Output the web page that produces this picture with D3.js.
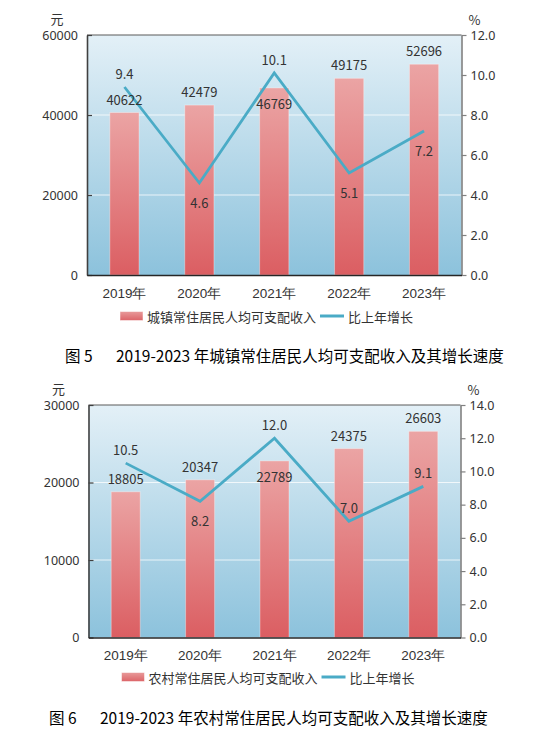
<!DOCTYPE html>
<html>
<head>
<meta charset="utf-8">
<script src="https://cdn.jsdelivr.net/npm/d3@7"></script>
<style>
html,body{margin:0;padding:0;background:#fff;}
svg{display:block;font-family:"Noto Sans CJK SC","Noto Sans",sans-serif;}
</style>
</head>
<body>
<svg id="c" width="554" height="737"></svg>
<script>
const years = ["2019年","2020年","2021年","2022年","2023年"];
const urbanIncome = [40622, 42479, 46769, 49175, 52696];
const urbanGrowth = [9.4, 4.6, 10.1, 5.1, 7.2];
const ruralIncome = [18805, 20347, 22789, 24375, 26603];
const ruralGrowth = [10.5, 8.2, 12.0, 7.0, 9.1];
const urbanLeftTicks = [0, 20000, 40000, 60000];
const urbanRightTicks = [0, 2, 4, 6, 8, 10, 12];
const ruralLeftTicks = [0, 10000, 20000, 30000];
const ruralRightTicks = [0, 2, 4, 6, 8, 10, 12, 14];
const urbanLegend = ["城镇常住居民人均可支配收入", "比上年增长"];
const ruralLegend = ["农村常住居民人均可支配收入", "比上年增长"];
const urbanCaption = ["图 5", "2019-2023 年城镇常住居民人均可支配收入及其增长速度"];
const ruralCaption = ["图 6", "2019-2023 年农村常住居民人均可支配收入及其增长速度"];

const svg = d3.select("#c");
const defs = svg.append("defs");
const bg = defs.append("linearGradient").attr("id","bgGrad").attr("x1",0).attr("y1",0).attr("x2",0).attr("y2",1);
bg.append("stop").attr("offset","0%").attr("stop-color","#e3f0f7");
bg.append("stop").attr("offset","100%").attr("stop-color","#8cc2dc");
const bg2 = defs.append("linearGradient").attr("id","barGrad").attr("x1",0).attr("y1",0).attr("x2",0).attr("y2",1);
bg2.append("stop").attr("offset","0%").attr("stop-color","#eba4a4");
bg2.append("stop").attr("offset","100%").attr("stop-color","#db5e62");
const bg3 = defs.append("linearGradient").attr("id","legGrad").attr("x1",0).attr("y1",0).attr("x2",0).attr("y2",1);
bg3.append("stop").attr("offset","0%").attr("stop-color","#e89a9a");
bg3.append("stop").attr("offset","100%").attr("stop-color","#dc6468");

const LINE = "#4aabc6";
const TXT = "#333333";

function drawChart(o){
  const g = svg.append("g");
  const x = d3.scaleBand().domain(o.cats).range([o.left,o.right]).paddingInner(0.61).paddingOuter(0.305);
  const yL = d3.scaleLinear().domain([0,d3.max(o.lticks)]).range([o.bottom,o.top]);
  const yR = d3.scaleLinear().domain([0,d3.max(o.rticks)]).range([o.bottom,o.top]);

  g.append("rect").attr("x",o.left).attr("y",o.top).attr("width",o.right-o.left).attr("height",o.bottom-o.top).attr("fill","url(#bgGrad)");
  g.selectAll(".grid").data(o.lticks.slice(1,-1)).join("line")
    .attr("x1",o.left).attr("x2",o.right).attr("y1",d=>yL(d)).attr("y2",d=>yL(d))
    .attr("stroke","rgba(255,255,255,0.75)").attr("stroke-width",1.2);
  g.selectAll(".bar").data(o.income).join("rect")
    .attr("x",(d,i)=>x(o.cats[i])).attr("width",x.bandwidth())
    .attr("y",d=>yL(d)).attr("height",d=>o.bottom-yL(d))
    .attr("fill","url(#barGrad)").attr("stroke","rgba(255,255,255,0.35)").attr("stroke-width",1);
  g.append("line").attr("x1",o.left).attr("x2",o.right).attr("y1",o.top).attr("y2",o.top).attr("stroke","#5a5a5a").attr("stroke-width",1.2);
  const la = g.append("g").attr("transform",`translate(${o.left},0)`)
    .call(d3.axisLeft(yL).tickValues(o.lticks).tickFormat(d3.format("d")).tickSizeInner(-5).tickSizeOuter(0).tickPadding(9));
  la.select(".domain").attr("stroke","#404040").attr("stroke-width",1.6);
  la.selectAll(".tick line").attr("stroke","#404040").attr("stroke-width",1.2);
  la.selectAll("text").attr("font-size",12.5).attr("fill",TXT).attr("font-family","Noto Sans, sans-serif");
  const ra = g.append("g").attr("transform",`translate(${o.right},0)`)
    .call(d3.axisRight(yR).tickValues(o.rticks).tickFormat(d3.format(".1f")).tickSizeInner(5).tickSizeOuter(0).tickPadding(4));
  ra.select(".domain").attr("stroke","#808080").attr("stroke-width",1.6);
  ra.selectAll(".tick line").attr("stroke","#808080").attr("stroke-width",1.2);
  ra.selectAll("text").attr("font-size",12.5).attr("fill",TXT).attr("font-family","Noto Sans, sans-serif");
  const ba = g.append("g").attr("transform",`translate(0,${o.bottom})`)
    .call(d3.axisBottom(x).tickSize(0).tickPadding(0));
  ba.select(".domain").attr("stroke","#262626").attr("stroke-width",1.6);
  ba.selectAll("text").attr("font-size",13.5).attr("fill",TXT).attr("y",18).attr("dy","0.35em");
  g.append("text").attr("x",o.left-30).attr("y",o.top-17).attr("text-anchor","middle").attr("dominant-baseline","central").attr("font-size",13).attr("fill",TXT).text("元");
  g.append("text").attr("x",o.right+13).attr("y",o.top-16).attr("text-anchor","middle").attr("dominant-baseline","central").attr("font-size",13).attr("fill",TXT).text("%");
  const line = d3.line().x((d,i)=>x(o.cats[i])+x.bandwidth()/2).y(d=>yR(d));
  g.append("path").datum(o.growth).attr("d",line).attr("fill","none").attr("stroke",LINE).attr("stroke-width",2.8).attr("stroke-linejoin","miter");
  g.selectAll(".bl").data(o.income).join("text")
    .attr("x",(d,i)=>x(o.cats[i])+x.bandwidth()/2)
    .attr("y",(d,i)=>o.barPos[i]==="inside"? yL(d)+16 : yL(d)-13.5)
    .attr("text-anchor","middle").attr("dominant-baseline","central")
    .attr("font-size",13).attr("fill",TXT).text(d=>d);
  g.selectAll(".gl").data(o.growth).join("text")
    .attr("x",(d,i)=>x(o.cats[i])+x.bandwidth()/2)
    .attr("y",(d,i)=>o.ratePos[i]==="above"? yR(d)-14 : yR(d)+19)
    .attr("text-anchor","middle").attr("dominant-baseline","central")
    .attr("font-size",13).attr("fill",TXT).text(d=>d3.format(".1f")(d));
  const lg = g.append("g").attr("transform",`translate(${o.left+33},${o.legendY})`);
  lg.append("rect").attr("x",0).attr("y",-4.5).attr("width",23).attr("height",9).attr("fill","url(#legGrad)").attr("stroke","rgba(255,255,255,0.5)");
  const t1 = lg.append("text").attr("x",27).attr("y",0).attr("dominant-baseline","central").attr("font-size",13).attr("fill",TXT).text(o.legend[0]);
  const w1 = t1.node().getComputedTextLength();
  const lx = 27 + w1 + 4;
  lg.append("line").attr("x1",lx).attr("x2",lx+24).attr("y1",0).attr("y2",0).attr("stroke",LINE).attr("stroke-width",3);
  lg.append("text").attr("x",lx+28).attr("y",0).attr("dominant-baseline","central").attr("font-size",13).attr("fill",TXT).text(o.legend[1]);
  g.append("text").attr("x",o.capX1).attr("y",o.capY).attr("dominant-baseline","central").attr("font-size",15.5).attr("fill","#000").text(o.caption[0]);
  g.append("text").attr("x",o.capX2).attr("y",o.capY).attr("dominant-baseline","central").attr("font-size",15.5).attr("fill","#000").text(o.caption[1]);
}

drawChart({cats:years,income:urbanIncome,growth:urbanGrowth,lticks:urbanLeftTicks,rticks:urbanRightTicks,
  left:87,right:461.5,top:35,bottom:275,legendY:316,legend:urbanLegend,caption:urbanCaption,capX1:65,capX2:116,capY:355,
  barPos:["above","above","inside","above","above"],ratePos:["above","below","above","below","below"]});
drawChart({cats:years,income:ruralIncome,growth:ruralGrowth,lticks:ruralLeftTicks,rticks:ruralRightTicks,
  left:88.5,right:460.5,top:405,bottom:637.5,legendY:677,legend:ruralLegend,caption:ruralCaption,capX1:49,capX2:100,capY:717,
  barPos:["above","above","inside","above","above"],ratePos:["above","below","above","above","above"]});
</script>
</body>
</html>
